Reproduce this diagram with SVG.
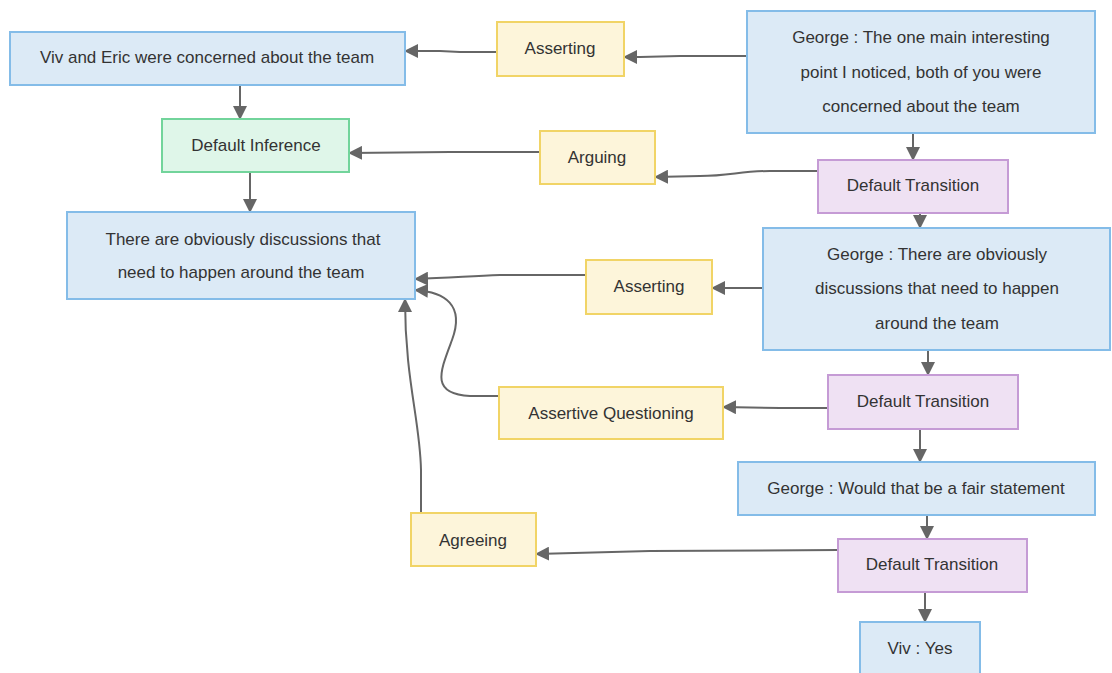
<svg xmlns="http://www.w3.org/2000/svg" width="1112" height="673" viewBox="0 0 1112 673">
  <style>
    .blue rect { fill: #dceaf6; stroke: #84bce8; stroke-width: 2; }
    .yellow rect { fill: #fdf5da; stroke: #f1d466; stroke-width: 2; }
    .green rect { fill: #dff6e9; stroke: #72d49b; stroke-width: 2; }
    .purple rect { fill: #efe1f3; stroke: #c59bd5; stroke-width: 2; }
    text { font-family: "Liberation Sans", Arial, sans-serif; font-size: 17px; fill: #333; text-anchor: middle; }
    .edges path { fill: none; stroke: #666; stroke-width: 2; }
  </style>
  <defs>
    <marker id="arrow" viewBox="0 0 14 14" refX="13" refY="7" markerWidth="14" markerHeight="14" markerUnits="userSpaceOnUse" orient="auto">
      <path d="M0,0 L14,7 L0,14 Z" fill="#666"/>
    </marker>
  </defs>
  <rect width="1112" height="673" fill="#fff"/>

  <g class="edges">
    <path d="M747,56 L680,56 L640,57 L624,57" marker-end="url(#arrow)"/>
    <path d="M497,52 L460,52 L440,51 L405,51" marker-end="url(#arrow)"/>
    <path d="M240,85 L240,119" marker-end="url(#arrow)"/>
    <path d="M540,152 L450,152 L349,153" marker-end="url(#arrow)"/>
    <path d="M250,172 L250,212" marker-end="url(#arrow)"/>
    <path d="M913,133 L913,160" marker-end="url(#arrow)"/>
    <path d="M818,171 L770,171 C740,171 730,176 700,176 L655,177" marker-end="url(#arrow)"/>
    <path d="M920,213 L920,228" marker-end="url(#arrow)"/>
    <path d="M763,288 L712,288" marker-end="url(#arrow)"/>
    <path d="M586,275 L500,275 C470,276 450,278 415,279" marker-end="url(#arrow)"/>
    <path d="M928,350 L928,375" marker-end="url(#arrow)"/>
    <path d="M828,408 L780,408 L723,407" marker-end="url(#arrow)"/>
    <path d="M499,396 L470,396 C430,394 440,372 452,340 C465,305 445,292 415,290" marker-end="url(#arrow)"/>
    <path d="M920,429 L920,462" marker-end="url(#arrow)"/>
    <path d="M927,515 L927,539" marker-end="url(#arrow)"/>
    <path d="M838,550 L650,551 L536,554" marker-end="url(#arrow)"/>
    <path d="M925,592 L925,622" marker-end="url(#arrow)"/>
    <path d="M421,513 L421,470 C420,420 405,380 405,299" marker-end="url(#arrow)"/>
  </g>

  <g id="viv-eric" class="blue">
    <rect x="10" y="32" width="395" height="53"/>
    <text x="207" y="63">Viv and Eric were concerned about the team</text>
  </g>
  <g id="asserting-1" class="yellow">
    <rect x="497" y="22" width="127" height="54"/>
    <text x="560" y="54">Asserting</text>
  </g>
  <g id="george-1" class="blue">
    <rect x="747" y="11" width="348" height="122"/>
    <text x="921" y="43">George : The one main interesting</text>
    <text x="921" y="78">point I noticed, both of you were</text>
    <text x="921" y="112">concerned about the team</text>
  </g>
  <g id="default-inference" class="green">
    <rect x="162" y="119" width="187" height="53"/>
    <text x="256" y="151">Default Inference</text>
  </g>
  <g id="arguing" class="yellow">
    <rect x="540" y="131" width="115" height="53"/>
    <text x="597" y="163">Arguing</text>
  </g>
  <g id="default-transition-1" class="purple">
    <rect x="818" y="160" width="190" height="53"/>
    <text x="913" y="191">Default Transition</text>
  </g>
  <g id="discussions" class="blue">
    <rect x="67" y="212" width="348" height="87"/>
    <text x="243" y="245">There are obviously discussions that</text>
    <text x="241" y="278">need to happen around the team</text>
  </g>
  <g id="asserting-2" class="yellow">
    <rect x="586" y="260" width="126" height="54"/>
    <text x="649" y="292">Asserting</text>
  </g>
  <g id="george-2" class="blue">
    <rect x="763" y="228" width="347" height="122"/>
    <text x="937" y="260">George : There are obviously</text>
    <text x="937" y="294">discussions that need to happen</text>
    <text x="937" y="329">around the team</text>
  </g>
  <g id="default-transition-2" class="purple">
    <rect x="828" y="375" width="190" height="54"/>
    <text x="923" y="407">Default Transition</text>
  </g>
  <g id="assertive-questioning" class="yellow">
    <rect x="499" y="387" width="224" height="52"/>
    <text x="611" y="419">Assertive Questioning</text>
  </g>
  <g id="george-3" class="blue">
    <rect x="738" y="462" width="357" height="53"/>
    <text x="916" y="494">George : Would that be a fair statement</text>
  </g>
  <g id="agreeing" class="yellow">
    <rect x="411" y="513" width="125" height="53"/>
    <text x="473" y="546">Agreeing</text>
  </g>
  <g id="default-transition-3" class="purple">
    <rect x="838" y="539" width="189" height="53"/>
    <text x="932" y="570">Default Transition</text>
  </g>
  <g id="viv-yes" class="blue">
    <rect x="860" y="622" width="120" height="56"/>
    <text x="920" y="654">Viv : Yes</text>
  </g>
</svg>
